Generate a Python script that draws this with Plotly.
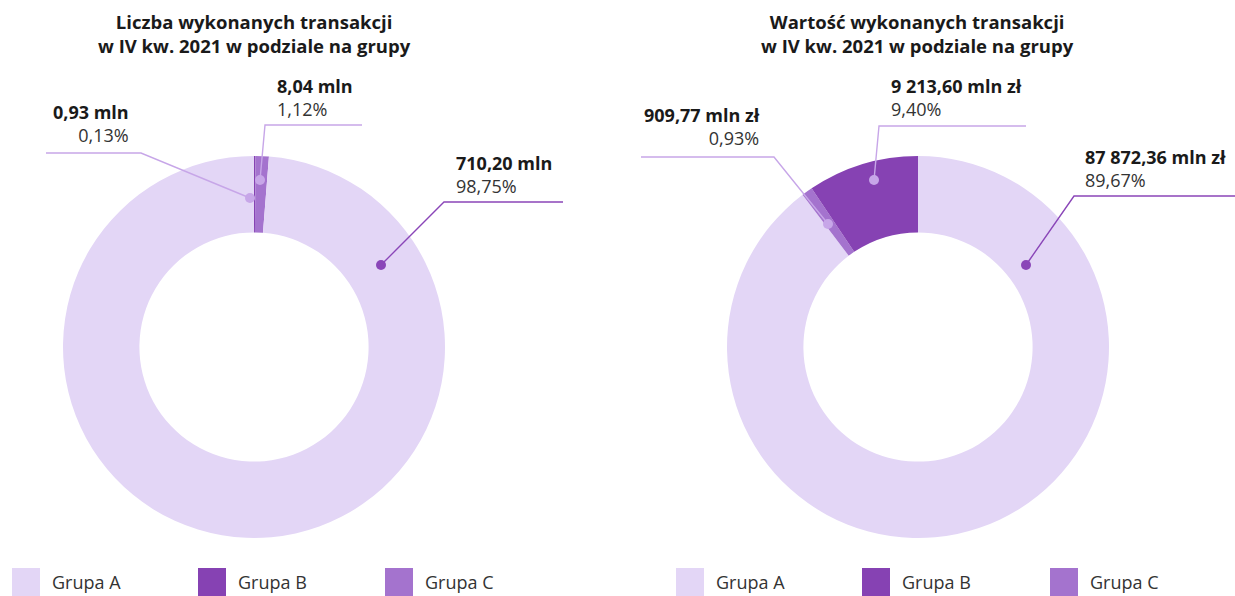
import plotly.graph_objects as go

# ---------------- data ----------------
groups = ["Grupa A", "Grupa B", "Grupa C"]
count_values = [710.20, 0.93, 8.04]          # mln transakcji
count_labels = ["710,20 mln", "0,93 mln", "8,04 mln"]
count_pcts = ["98,75%", "0,13%", "1,12%"]
value_values = [87872.36, 9213.60, 909.77]    # mln zł
value_labels = ["87 872,36 mln zł", "9 213,60 mln zł", "909,77 mln zł"]
value_pcts = ["89,67%", "9,40%", "0,93%"]
titles = ["Liczba wykonanych transakcji<br>w IV kw. 2021 w podziale na grupy",
          "Wartość wykonanych transakcji<br>w IV kw. 2021 w podziale na grupy"]

# ---------------- style ----------------
W, H = 1235, 596
colors = {"Grupa A": "#E3D6F6", "Grupa B": "#8642B3", "Grupa C": "#A473CE"}
dark_line = "#8A46B8"
light_line = "#C7A6E8"
FONT = "Open Sans"

def px(x):
    return x / W

def py(y):
    return (H - y) / H

fig = go.Figure()

centers = [254, 918]
R = 191
orders = [[1, 2, 0], [0, 2, 1]]   # slice order clockwise from 12 o'clock
datasets = [count_values, value_values]
for cx, order, vals in zip(centers, orders, datasets):
    labs = [groups[i] for i in order]
    fig.add_trace(go.Pie(
        labels=labs,
        values=[vals[i] for i in order],
        marker=dict(colors=[colors[l] for l in labs], line=dict(width=0)),
        hole=0.6,
        sort=False,
        direction="clockwise",
        rotation=0,
        textinfo="none",
        hoverinfo="label+value+percent",
        showlegend=False,
        domain=dict(x=[px(cx - R), px(cx + R)], y=[py(347 + R), py(347 - R)]),
    ))

# label layout (pixel positions of leader-line anchor, elbow, end; text anchor)
label_specs = [
    # chart 0
    dict(chart=0, idx=0, dot=(381, 265), elbow=(444, 202), end=(563, 202), tx=454, ty=163, side="left", dark=True),
    dict(chart=0, idx=2, dot=(260, 180), elbow=(265, 125), end=(362, 125), tx=275, ty=86, side="left", dark=False),
    dict(chart=0, idx=1, dot=(250, 198), elbow=(141, 153), end=(46, 153), tx=131, ty=112, side="right", dark=False),
    # chart 1
    dict(chart=1, idx=0, dot=(1026, 265), elbow=(1074, 196), end=(1235, 196), tx=1083, ty=157, side="left", dark=True),
    dict(chart=1, idx=1, dot=(874, 180), elbow=(879, 126), end=(1026, 126), tx=889, ty=86, side="left", dark=False),
    dict(chart=1, idx=2, dot=(828, 224), elbow=(774, 157), end=(641, 157), tx=762, ty=115, side="right", dark=False),
]

shapes = []
annotations = []
label_sets = [(count_labels, count_pcts), (value_labels, value_pcts)]
for s in label_specs:
    col = dark_line if s["dark"] else light_line
    (x0, y0), (x1, y1), (x2, y2) = s["dot"], s["elbow"], s["end"]
    shapes.append(dict(type="path", xref="paper", yref="paper",
                       path=f"M {px(x0)},{py(y0)} L {px(x1)},{py(y1)} L {px(x2)},{py(y2)}",
                       line=dict(color=col, width=1.4)))
    r = 5
    shapes.append(dict(type="circle", xref="paper", yref="paper",
                       x0=px(x0 - r), x1=px(x0 + r), y0=py(y0 + r), y1=py(y0 - r),
                       fillcolor=col, line=dict(width=0)))
    labs, pcts = label_sets[s["chart"]]
    annotations.append(dict(
        xref="paper", yref="paper", x=px(s["tx"]), y=py(s["ty"] + 11.5),
        xanchor=s["side"], yanchor="middle", align=s["side"], showarrow=False,
        text=f"<b>{labs[s['idx']]}</b><br><span style='color:#333333'>{pcts[s['idx']]}</span>",
        font=dict(family=FONT, size=18, color="#1a1a1a"),
    ))

# titles
for cx, t in zip(centers, titles):
    annotations.append(dict(
        xref="paper", yref="paper", x=px(cx), y=py(7), xanchor="center", yanchor="top",
        showarrow=False, text=f"<b>{t}</b>", align="center",
        font=dict(family=FONT, size=18.5, color="#1a1a1a"),
    ))

# legends
legend_x = [[12, 198, 385], [676, 862, 1050]]
for xs in legend_x:
    for g, lx in zip(groups, xs):
        shapes.append(dict(type="rect", xref="paper", yref="paper",
                           x0=px(lx), x1=px(lx + 28), y0=py(596), y1=py(568),
                           fillcolor=colors[g], line=dict(width=0)))
        annotations.append(dict(
            xref="paper", yref="paper", x=px(lx + 38), y=py(582), xanchor="left", yanchor="middle",
            showarrow=False, text=g, font=dict(family=FONT, size=18, color="#333333"),
        ))

fig.update_layout(
    width=W, height=H,
    margin=dict(l=0, r=0, t=0, b=0),
    paper_bgcolor="white", plot_bgcolor="white",
    shapes=shapes, annotations=annotations,
    showlegend=False,
)

fig.write_html(
    "out.html",
    config={"displayModeBar": False},
    post_script="document.body.style.margin='0';document.body.style.overflow='hidden';",
)
